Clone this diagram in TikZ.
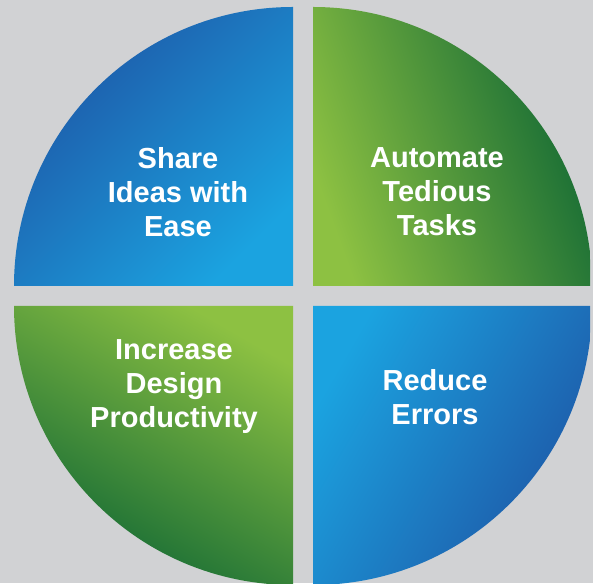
\documentclass[tikz,border=0pt]{standalone}
\usepackage{fontspec}
\setmainfont{Liberation Sans}
\definecolor{darkblue}{HTML}{1E55A5}
\definecolor{lightblue}{HTML}{1BA3E0}
\definecolor{darkgreen}{HTML}{0E6634}
\definecolor{lightgreen}{HTML}{8DC142}
\definecolor{bggray}{HTML}{D1D2D4}
\begin{document}
\begin{tikzpicture}[x=1pt, y=1pt,
  quad/.style={line width=0pt},
  goal/.style={text=white, font=\fontsize{29}{34}\selectfont\bfseries, align=center, inner sep=0pt}]
\fill[bggray] (0,0) rectangle (593,583);
\useasboundingbox (0,0) rectangle (593,583);

\begin{scope}
\clip (0,0) rectangle (590,583);
% top left
\shade[quad, top color=darkblue, bottom color=lightblue, shading angle=45]
  (293,297) -- ++(-279,0) arc[start angle=180, end angle=90, radius=279] -- cycle;
% top right
\shade[quad, top color=darkgreen, bottom color=lightgreen, shading angle=-70]
  (313,297) -- ++(0,279) arc[start angle=90, end angle=0, radius=279] -- cycle;
% bottom left
\shade[quad, top color=darkgreen, bottom color=lightgreen, shading angle=150]
  (293,277) -- ++(0,-279) arc[start angle=270, end angle=180, radius=279] -- cycle;
% bottom right
\shade[quad, top color=darkblue, bottom color=lightblue, shading angle=-120]
  (313,277) -- ++(279,0) arc[start angle=0, end angle=-90, radius=279] -- cycle;
\end{scope}

\node[goal] (share) at (178,391) {Share\\Ideas with\\Ease};
\node[goal] (automate) at (437,391) {Automate\\Tedious\\Tasks};
\node[goal] (increase) at (174,196) {Increase\\Design\\Productivity};
\node[goal] (reduce) at (435,186) {Reduce\\Errors};

\end{tikzpicture}
\end{document}
